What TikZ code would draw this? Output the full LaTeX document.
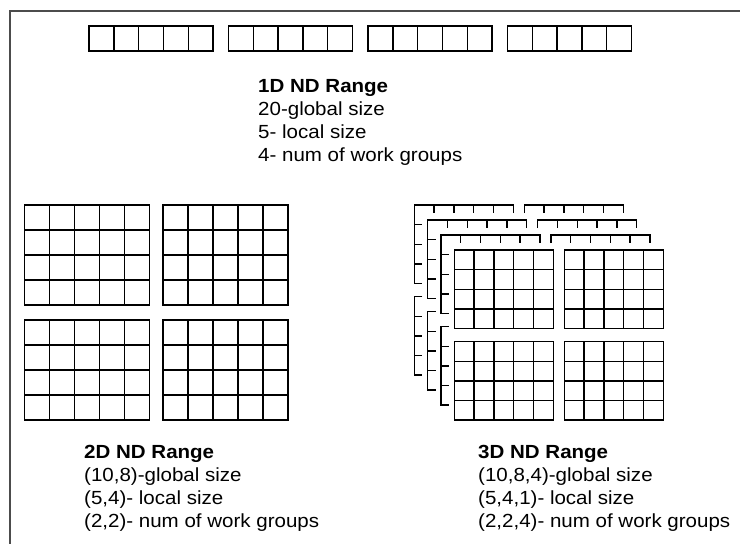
\documentclass[tikz,border=0pt]{standalone}
\usepackage{fontspec}
\setmainfont{Liberation Sans}[FakeStretch=1.08]
\newcommand\mygrid[6]{% x y cols rows w h
  \draw[gridline] (#1,#2) rectangle ++({#3*#5},{#4*#6});
  \foreach \i in {1,...,#3}{\draw[gridline] ({#1+\i*#5},#2) -- ++(0,{#4*#6});}
  \foreach \j in {1,...,#4}{\draw[gridline] (#1,{#2+\j*#6}) -- ++({#3*#5},0);}
}
\begin{document}
\begin{tikzpicture}[x=1pt,y=-1pt,
  gridline/.style={line width=1.4pt, black},
  frameline/.style={line width=1.5pt, black!70},
  lbl/.style={anchor=base west, inner sep=0pt, font=\fontsize{19}{23}\selectfont},
  ttl/.style={anchor=base west, inner sep=0pt, font=\fontsize{19}{23}\selectfont\bfseries}]
\useasboundingbox (0,0) rectangle (740,544);
\fill[white] (0,0) rectangle (740,544);
\begin{scope}
\clip (0,0) rectangle (740,544);
\draw[frameline] (10,560) -- (10,11) -- (760,11);
\end{scope}
% 1D
\foreach \gx in {89,228.5,368,507.5}{\mygrid{\gx}{26}{5}{1}{24.8}{25}}
% 2D
\mygrid{24.7}{205}{5}{4}{25}{25}
\mygrid{163}{205}{5}{4}{25}{25}
\mygrid{24.7}{320}{5}{4}{25}{25}
\mygrid{163}{320}{5}{4}{25}{25}
% 3D front
\mygrid{454.3}{250}{5}{4}{19.8}{19.6}
\mygrid{564.3}{250}{5}{4}{19.8}{19.6}
\mygrid{454.3}{341.7}{5}{4}{19.8}{19.6}
\mygrid{564.3}{341.7}{5}{4}{19.8}{19.6}
% 3D back layers
\foreach \k in {1,2,3}{
  \pgfmathsetmacro\ox{-13.33*\k}
  \pgfmathsetmacro\oy{-15*\k}
  % top-left group
  \pgfmathsetmacro\xa{454.3+\ox}
  \pgfmathsetmacro\ya{250+\oy}
  \draw[gridline] (\xa+99,\ya+8) -- (\xa+99,\ya) -- (\xa,\ya) -- (\xa,\ya+78.4) -- (\xa+8,\ya+78.4);
  \foreach \i in {1,...,4}{\draw[gridline] (\xa+\i*19.8,\ya) -- ++(0,8);}
  \foreach \j in {1,...,3}{\draw[gridline] (\xa,\ya+\j*19.6) -- ++(8,0);}
  % top-right group
  \pgfmathsetmacro\xb{564.3+\ox}
  \draw[gridline] (\xb,\ya+8) -- (\xb,\ya) -- (\xb+99,\ya) -- (\xb+99,\ya+8);
  \foreach \i in {1,...,4}{\draw[gridline] (\xb+\i*19.8,\ya) -- ++(0,8);}
  % bottom-left group
  \pgfmathsetmacro\yc{341.7+\oy}
  \draw[gridline] (\xa+8,\yc) -- (\xa,\yc) -- (\xa,\yc+78.4) -- (\xa+8,\yc+78.4);
  \foreach \j in {1,...,3}{\draw[gridline] (\xa,\yc+\j*19.6) -- ++(8,0);}
}
% texts
\node[ttl] (t1) at (258,92) {1D ND Range};
\node[lbl] (t1a) at (258,115) {20-global size};
\node[lbl] (t1b) at (258,138) {5- local size};
\node[lbl] (t1c) at (258,161) {4- num of work groups};
\node[ttl] (t2) at (84,458) {2D ND Range};
\node[lbl] (t2a) at (84,481) {(10,8)-global size};
\node[lbl] (t2b) at (84,504) {(5,4)- local size};
\node[lbl] (t2c) at (84,527) {(2,2)- num of work groups};
\node[ttl] (t3) at (478,458) {3D ND Range};
\node[lbl] (t3a) at (478,481) {(10,8,4)-global size};
\node[lbl] (t3b) at (478,504) {(5,4,1)- local size};
\node[lbl] (t3c) at (478,527) {(2,2,4)- num of work groups};
\end{tikzpicture}
\end{document}
